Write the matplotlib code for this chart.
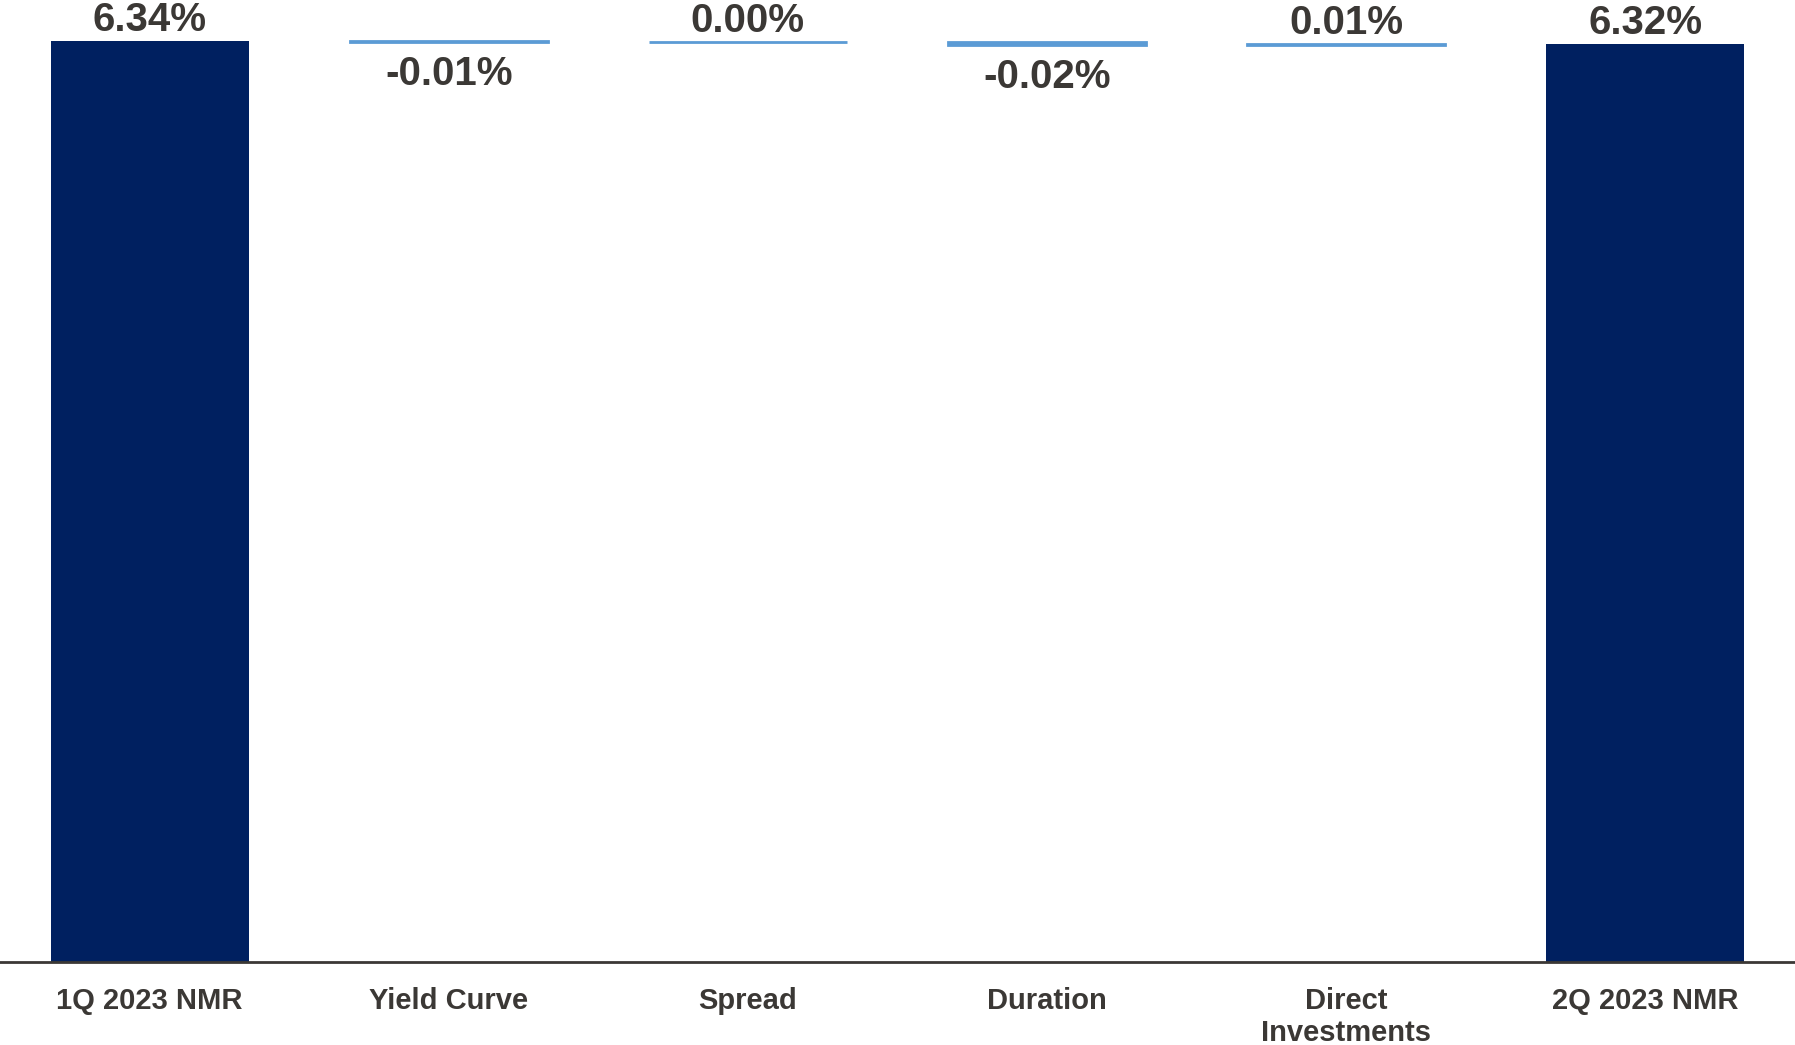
import numpy as np
from matplotlib import pyplot as plt

# категории и значения водопада
categories = ['1Q 2023 NMR', 'Yield Curve', 'Spread', 'Duration',
              'Direct\nInvestments', '2Q 2023 NMR']
start_value = 6.34
changes = [-0.01, 0.00, -0.02, 0.01]
end_value = 6.32

plt.rcParams['font.family'] = ['Liberation Sans', 'DejaVu Sans']

navy = '#002060'
light_blue = '#5b9bd5'
text_color = '#3b3835'

fig = plt.figure(figsize=(17.95, 10.45), dpi=100)
ax = fig.add_axes([0, 0.0794, 1, 0.9206])

x = np.arange(len(categories))
width = 0.662

# итоговые столбцы
ax.bar([x[0], x[-1]], [start_value, end_value], width=width, color=navy)

# промежуточные изменения
level = start_value
for i, delta in enumerate(changes):
    pos = x[i + 1]
    ax.bar(pos, delta, bottom=level, width=width, color=light_blue,
           edgecolor=light_blue, linewidth=2)
    new_level = level + delta
    label = f'{delta:.2f}%'
    if delta < 0:
        ax.annotate(label, (pos, min(level, new_level)), xytext=(0, -9),
                    textcoords='offset points', ha='center', va='top',
                    fontsize=29, fontweight='bold', color=text_color)
    else:
        ax.annotate(label, (pos, max(level, new_level)), xytext=(0, 1.5),
                    textcoords='offset points', ha='center', va='bottom',
                    fontsize=29, fontweight='bold', color=text_color)
    level = new_level

for pos, val in [(x[0], start_value), (x[-1], end_value)]:
    ax.annotate(f'{val:.2f}%', (pos, val), xytext=(0, 1.5),
                textcoords='offset points', ha='center', va='bottom',
                fontsize=29, fontweight='bold', color=text_color)

ax.set_xlim(-0.5, len(categories) - 0.5)
ax.set_ylim(0, 6.62)
ax.set_xticks(x)
ax.set_xticklabels(categories, fontsize=21, fontweight='bold',
                   color=text_color, linespacing=1.18)
ax.tick_params(axis='x', length=0, pad=18)
ax.set_yticks([])
for side in ['top', 'left', 'right']:
    ax.spines[side].set_visible(False)
ax.spines['bottom'].set_color(text_color)
ax.spines['bottom'].set_linewidth(2)

fig.savefig('out.png', dpi=100)
